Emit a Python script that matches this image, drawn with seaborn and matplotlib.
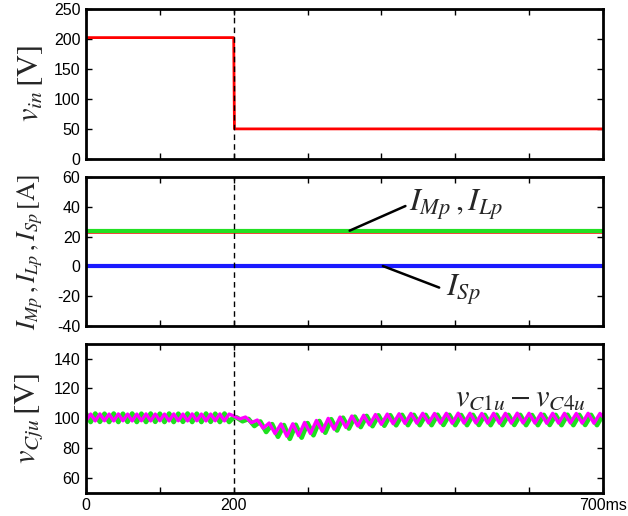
import numpy as np
import pandas as pd
import matplotlib
matplotlib.use("Agg")
import matplotlib.pyplot as plt
import seaborn as sns

# ---------------- data ----------------
# input voltage step
vin_t = [0, 200, 201, 700]
vin_v = [202, 202, 50, 50]

# currents
cur_t = [0, 700]
i_mp = [23.6, 23.6]
i_lp = [24.0, 24.0]
i_sp = [0.3, 0.3]

# capacitor voltages: alternating peak / trough values
pre_t = list(np.arange(0, 200, 6.25))            # 32 extremes before the step
mag_pre = [98.3, 102.8, 98.2, 102.9, 98.3, 102.8, 98.2, 102.9,
           98.3, 102.8, 98.2, 102.8, 98.3, 102.9, 98.2, 102.8,
           98.3, 102.8, 98.2, 102.9, 98.3, 102.8, 98.2, 102.9,
           98.3, 102.8, 98.2, 102.8, 98.3, 102.9, 98.2, 102.8]
grn_pre = [103.0, 97.5, 103.1, 97.6, 103.0, 97.5, 103.1, 97.5,
           103.0, 97.6, 103.1, 97.5, 103.0, 97.5, 103.1, 97.6,
           103.0, 97.5, 103.1, 97.5, 103.0, 97.6, 103.1, 97.5,
           103.0, 97.5, 103.1, 97.6, 103.0, 97.5, 103.1, 97.5]

mag_post_t = [200] + list(np.arange(208, 700, 8)) + [700]
mag_post = [101.5, 99.5, 100.8, 97.0, 98.8, 93.3, 96.8, 89.7, 96.2, 87.9,
            96.3, 88.3, 97.2, 89.7, 98.5, 91.2, 99.9, 92.6, 100.8, 93.8,
            101.5, 94.8, 102.0, 95.5, 102.5, 95.9, 102.8, 96.3, 103.0, 96.5,
            103.2, 96.7, 103.3, 96.8, 103.2, 96.7, 103.3, 96.6, 103.4, 96.7,
            103.3, 96.8, 103.2, 96.7, 103.3, 96.6, 103.3, 96.7, 103.4, 96.8,
            103.3, 96.7, 103.2, 96.6, 103.3, 96.7, 103.3, 96.8, 103.2, 96.7,
            103.3, 96.6, 103.2, 101.0]

grn_post_t = [200] + list(np.arange(204, 701, 8))
grn_post = [100.8, 100.5, 98.0, 99.5, 94.8, 97.8, 90.8, 96.0, 87.6, 95.4,
            86.2, 95.6, 87.0, 96.7, 88.6, 98.1, 90.3, 99.3, 91.8, 100.3,
            93.1, 101.0, 94.1, 101.5, 94.7, 101.9, 95.0, 102.0, 95.3, 102.2,
            95.4, 102.2, 95.4, 102.2, 95.4, 102.3, 95.5, 102.2, 95.4, 102.1,
            95.4, 102.2, 95.5, 102.2, 95.4, 102.3, 95.4, 102.2, 95.5, 102.2,
            95.4, 102.1, 95.4, 102.2, 95.5, 102.2, 95.4, 102.3, 95.4, 102.2,
            95.5, 102.2, 95.4, 102.2]

x_ticks = [0, 100, 200, 300, 400, 500, 600, 700]
x_labels = ["0", "", "200", "", "", "", "", "700ms"]

# ---------------- style ----------------
sns.set_theme(style="ticks")
plt.rcParams["font.family"] = ["Liberation Sans", "DejaVu Sans"]
plt.rcParams["mathtext.fontset"] = "stix"
plt.rcParams["axes.linewidth"] = 1.8
plt.rcParams["axes.unicode_minus"] = False

fig = plt.figure(figsize=(6.28, 5.16), dpi=100)
L, W = 0.137, 0.823
ax1 = fig.add_axes([L, 0.692, W, 0.291])
ax2 = fig.add_axes([L, 0.368, W, 0.289])
ax3 = fig.add_axes([L, 0.045, W, 0.289])

def style(ax):
    ax.set_xlim(0, 700)
    ax.set_xticks(x_ticks)
    ax.tick_params(direction="in", length=4, width=1, top=True, right=True,
                   labelsize=11.5, colors="black", pad=4)
    for s in ax.spines.values():
        s.set_color("black")
        s.set_linewidth(2.0)
    ax.axvline(200, color="black", lw=1.0, ls=(0, (4, 3)), zorder=5)
    ax.set_xlabel("")
    ax.yaxis.set_label_coords(-0.079, 0.5)

# top
df1 = pd.DataFrame({"t": vin_t, "v": vin_v})
sns.lineplot(data=df1, x="t", y="v", ax=ax1, color="#ff0000", lw=2.0,
             estimator=None, sort=False)
ax1.set_ylim(0, 250)
ax1.set_yticks([0, 50, 100, 150, 200, 250])
style(ax1)
ax1.set_xticklabels([])
ax1.set_ylabel(r"$v_{in}\,[\mathrm{V}]$", fontsize=22)

# middle
df2 = pd.DataFrame({"t": cur_t * 3,
                    "i": i_mp + i_lp + i_sp,
                    "s": ["mp"] * 2 + ["lp"] * 2 + ["sp"] * 2})
sns.lineplot(data=df2[df2.s == "mp"], x="t", y="i", ax=ax2, color="#ff2020",
             lw=3.4, estimator=None, sort=False)
sns.lineplot(data=df2[df2.s == "lp"], x="t", y="i", ax=ax2, color="#22e022",
             lw=3.0, estimator=None, sort=False)
sns.lineplot(data=df2[df2.s == "sp"], x="t", y="i", ax=ax2, color="#1a1aff",
             lw=3.0, estimator=None, sort=False)
ax2.set_ylim(-40, 60)
ax2.set_yticks([-40, -20, 0, 20, 40, 60])
style(ax2)
ax2.set_xticklabels([])
ax2.set_ylabel(r"$I_{Mp}\,,I_{Lp}\,,I_{Sp}\,[\mathrm{A}]$", fontsize=18.5)
ax2.annotate(r"$I_{Mp}\,,I_{Lp}$", xy=(357, 24), xytext=(437, 41.5),
             fontsize=23, va="center", ha="left",
             arrowprops=dict(arrowstyle="-", color="black", lw=1.8,
                             shrinkA=0, shrinkB=0,
                             relpos=(0, 0.5)))
ax2.annotate(r"$I_{Sp}$", xy=(402, 0.3), xytext=(488, -16),
             fontsize=23, va="center", ha="left",
             arrowprops=dict(arrowstyle="-", color="black", lw=1.8,
                             shrinkA=3, shrinkB=0,
                             relpos=(0, 0.5)))

# bottom
gt = pre_t + grn_post_t
gv = grn_pre + grn_post
mt = pre_t + mag_post_t
mv = mag_pre + mag_post
df3 = pd.DataFrame({"t": gt + mt, "v": gv + mv,
                    "s": ["g"] * len(gt) + ["m"] * len(mt)})
sns.lineplot(data=df3[df3.s == "g"], x="t", y="v", ax=ax3, color="#1ee01e",
             lw=3.4, estimator=None, sort=False)
sns.lineplot(data=df3[df3.s == "m"], x="t", y="v", ax=ax3, color="#ff00ff",
             lw=2.4, estimator=None, sort=False)
ax3.set_ylim(50, 150)
ax3.set_yticks([60, 80, 100, 120, 140])
style(ax3)
ax3.set_xticklabels(x_labels)
ax3.set_ylabel(r"$v_{Cju}\,[\mathrm{V}]$", fontsize=22)
ax3.text(589, 114, r"$v_{C1u}-v_{C4u}$", fontsize=22, ha="center", va="center")

fig.savefig("out.png", dpi=100)
